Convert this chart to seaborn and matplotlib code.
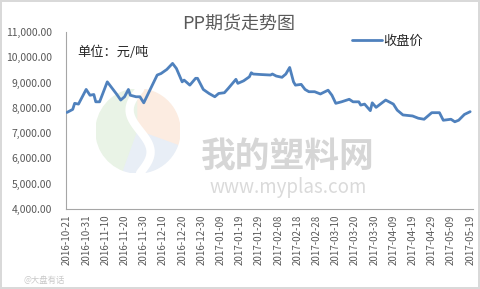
import matplotlib
matplotlib.use("Agg")
import matplotlib.pyplot as plt
import matplotlib.dates as mdates
from matplotlib.patches import Wedge
import seaborn as sns
import pandas as pd
import numpy as np

dates = ["2016-10-21","2016-10-24","2016-10-25","2016-10-27","2016-10-29","2016-10-31",
         "2016-11-02","2016-11-04","2016-11-05","2016-11-07","2016-11-11","2016-11-14",
         "2016-11-16","2016-11-18","2016-11-20","2016-11-22","2016-11-23","2016-11-26",
         "2016-11-28","2016-11-30","2016-12-04","2016-12-07","2016-12-09","2016-12-12",
         "2016-12-15","2016-12-17","2016-12-20","2016-12-21","2016-12-24","2016-12-27",
         "2016-12-28","2016-12-31","2017-01-03","2017-01-06","2017-01-08","2017-01-11",
         "2017-01-13","2017-01-17","2017-01-18","2017-01-21","2017-01-24","2017-01-25",
         "2017-01-26","2017-01-30","2017-02-04","2017-02-05","2017-02-07","2017-02-10",
         "2017-02-12","2017-02-14","2017-02-16","2017-02-17","2017-02-20","2017-02-22",
         "2017-02-24","2017-02-27","2017-03-02","2017-03-06","2017-03-08","2017-03-10",
         "2017-03-13","2017-03-17","2017-03-19","2017-03-22","2017-03-23","2017-03-25",
         "2017-03-28","2017-03-29","2017-03-31","2017-04-05","2017-04-09","2017-04-11",
         "2017-04-14","2017-04-19","2017-04-22","2017-04-25","2017-04-29","2017-05-03",
         "2017-05-05","2017-05-09","2017-05-11","2017-05-13","2017-05-16","2017-05-19"]
close = [7820,7940,8180,8150,8440,8730,
         8500,8530,8240,8240,9030,8730,
         8530,8310,8440,8730,8500,8440,
         8440,8200,8830,9300,9360,9520,
         9760,9560,9030,9100,8900,9170,
         9170,8730,8570,8440,8570,8600,
         8770,9130,8970,9070,9230,9390,
         9340,9320,9300,9340,9260,9210,
         9340,9600,9030,8900,8930,8730,
         8640,8640,8550,8700,8500,8180,
         8240,8340,8240,8240,8110,8150,
         7890,8200,8020,8310,8150,7910,
         7720,7680,7590,7550,7810,7810,
         7510,7550,7450,7510,7740,7850]
title = "PP期货走势图"
series_name = "收盘价"
unit_text = "单位：元/吨"
yticks = [4000, 5000, 6000, 7000, 8000, 9000, 10000, 11000]

sns.set_style("white")
plt.rcParams['font.family'] = ['Noto Sans CJK SC', 'DejaVu Sans']

df = pd.DataFrame({"date": pd.to_datetime(dates), series_name: close})

fig = plt.figure(figsize=(4.8, 2.89), dpi=100)
fig.patch.set_facecolor("white")
fig.patch.set_edgecolor("#d9d9d9")
fig.patch.set_linewidth(1.5)

# faint watermark logo
lx, ly, lr = 138, 131, 42
lax = fig.add_axes([(lx - lr) / 480, 1 - (ly + lr) / 289, 2 * lr / 480, 2 * lr / 289], zorder=0)
lax.set_xlim(-1, 1); lax.set_ylim(-1, 1); lax.axis("off")
lax.add_patch(Wedge((0, 0), 1, 90, 250, color="#e9f3e6"))
lax.add_patch(Wedge((0, 0), 1, -20, 90, color="#fcece1"))
lax.add_patch(Wedge((0, 0), 1, 250, 340, color="#e8eef6"))
tt = np.linspace(0, 1, 50)
sx = 0.25 * np.sin(tt * 2 * np.pi + np.pi) + 0.05
sy = 1 - 2 * tt
lax.plot(sx, sy, color="white", linewidth=6, solid_capstyle="round")

ax = fig.add_axes([0.1375, 0.277, 0.848, 0.612], zorder=1)

fig.text(0.60, 0.46, "我的塑料网", fontsize=25, color="#d6d6d6", ha="center", va="center", fontweight="bold", zorder=0)
fig.text(0.60, 0.35, "www.myplas.com", fontsize=13.5, color="#dadada", ha="center", va="center", zorder=0)
fig.text(0.05, 0.03, "@大盘有话", fontsize=6, color="#c8c8c8", ha="left", va="center")

sns.lineplot(data=df, x="date", y=series_name, ax=ax, color="#4f81bd", linewidth=2.0,
             label=series_name, zorder=3)

ax.set_ylim(4000, 11000)
ax.set_yticks(yticks)
ax.set_yticklabels([f"{v:,.2f}" for v in yticks])
xt = pd.date_range("2016-10-21", "2017-05-19", freq="10D")
ax.set_xticks(xt)
ax.xaxis.set_major_formatter(mdates.DateFormatter("%Y-%m-%d"))
ax.set_xlim(pd.Timestamp("2016-10-20 12:00"), pd.Timestamp("2017-05-20 12:00"))
ax.tick_params(axis="x", rotation=90, labelsize=7, colors="#595959", length=0, pad=4)
ax.tick_params(axis="y", labelsize=7.5, colors="#595959", length=0, pad=10)
ax.set_xlabel("")
ax.set_ylabel("")
for s in ["top", "right"]:
    ax.spines[s].set_visible(False)
for s in ["left", "bottom"]:
    ax.spines[s].set_color("#a6a6a6")
    ax.spines[s].set_linewidth(0.8)
ax.patch.set_alpha(0)

fig.text(0.497, 0.915, title, fontsize=13, color="#595959", ha="center", va="center")
fig.text(0.162, 0.82, unit_text, fontsize=9.5, color="#262626", ha="left", va="center")
leg = ax.legend(loc="upper right", bbox_to_anchor=(0.89, 1.015), frameon=False, fontsize=9.5,
                handlelength=2.3, handletextpad=0.1, borderaxespad=0)
for t in leg.get_texts():
    t.set_color("#262626")

fig.savefig("out.png", dpi=100)
